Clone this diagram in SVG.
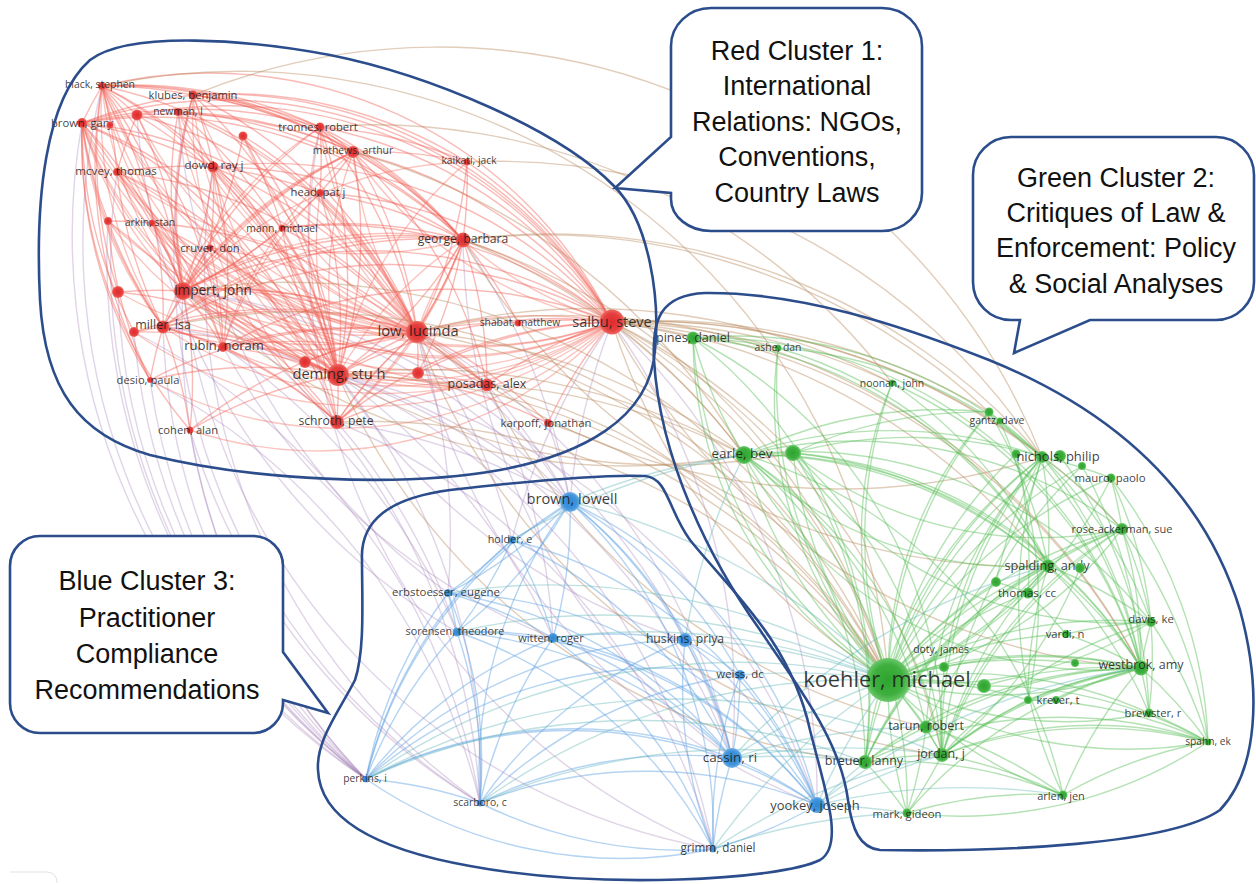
<svg xmlns="http://www.w3.org/2000/svg" width="1256" height="884" viewBox="0 0 1256 884">
<defs>
<style>
#connectors path{fill:none;stroke-width:1.4}
.er{stroke:#f05a50;stroke-opacity:.42}
.er2{stroke:#f26458;stroke-opacity:.38}
.eg{stroke:#58bf58;stroke-opacity:.45}
.eb{stroke:#5aa0e2;stroke-opacity:.45}
.erg{stroke:#b8875a;stroke-opacity:.42}
.erb{stroke:#a07ab4;stroke-opacity:.32}
.egb{stroke:#66b8b8;stroke-opacity:.42}
.r{fill:url(#gr)}
.g{fill:url(#gg)}
.b{fill:url(#gb)}
.lb{font-family:"Open Sans","DejaVu Sans",sans-serif;fill:#1e1e1e;fill-opacity:.88;text-anchor:middle}
.outline{fill:none;stroke:#2c4d8c;stroke-width:2.6}
.bubble{fill:#fff;stroke:#2c4d8c;stroke-width:2.6;stroke-linejoin:miter}
.ct{font-family:"Liberation Sans",Arial,sans-serif;font-size:27px;fill:#111;text-anchor:middle}
</style>
<radialGradient id="gr"><stop offset="0" stop-color="#e02a2c"/><stop offset=".7" stop-color="#e5403f"/><stop offset="1" stop-color="#ee6a62"/></radialGradient>
<radialGradient id="gg"><stop offset="0" stop-color="#2ea32e"/><stop offset=".7" stop-color="#3fb03f"/><stop offset="1" stop-color="#6cc86c"/></radialGradient>
<radialGradient id="gb"><stop offset="0" stop-color="#2f86d4"/><stop offset=".7" stop-color="#4094dc"/><stop offset="1" stop-color="#72b0e8"/></radialGradient>
</defs>
<rect width="1256" height="884" fill="#fff"/>
<g id="connectors">
<g class="erb">
<path d="M570 502A650 650 0 0 1 612 322"/><path d="M417 332A650 650 0 0 1 570 502"/><path d="M338 375A650 650 0 0 1 570 502"/><path d="M183 291A650 650 0 0 1 570 502"/><path d="M487 385A650 650 0 0 1 570 502"/><path d="M337 422A650 650 0 0 1 570 502"/><path d="M338 375A650 650 0 0 1 732 758"/><path d="M366 779A650 650 0 0 1 183 291"/><path d="M366 779A650 650 0 0 1 163 327"/><path d="M366 779A650 650 0 0 1 150 380"/><path d="M480 803A650 650 0 0 1 190 430"/><path d="M338 375A650 650 0 0 1 480 803"/><path d="M417 332A650 650 0 0 1 732 758"/><path d="M463 240A650 650 0 0 1 570 502"/><path d="M612 322A650 650 0 0 1 732 758"/><path d="M612 322A650 650 0 0 1 817 805"/><path d="M548 423A650 650 0 0 1 570 502"/><path d="M223 347A650 650 0 0 1 457 632"/><path d="M338 375A650 650 0 0 1 553 638"/><path d="M366 779A650 650 0 0 1 82 123"/><path d="M366 779A650 650 0 0 1 102 86"/><path d="M183 291A650 650 0 0 1 480 803"/><path d="M417 332A650 650 0 0 1 512 540"/><path d="M337 422A650 650 0 0 1 713 849"/><path d="M366 779A650 650 0 0 1 117 172"/><path d="M366 779A650 650 0 0 1 118 292"/><path d="M134 332A650 650 0 0 1 480 803"/><path d="M163 327A650 650 0 0 1 713 849"/><path d="M183 291A650 650 0 0 1 732 758"/><path d="M338 375A650 650 0 0 1 817 805"/><path d="M417 332A650 650 0 0 1 448 593"/><path d="M337 422A650 650 0 0 1 457 632"/><path d="M487 385A650 650 0 0 1 553 638"/><path d="M366 779A650 650 0 0 1 190 430"/><path d="M366 779A650 650 0 0 1 108 221"/><path d="M150 380A650 650 0 0 1 480 803"/>
<path d="M480 803A650 650 0 0 1 193 95"/><path d="M480 803A650 650 0 0 1 213 167"/><path d="M713 849A650 650 0 0 1 320 127"/><path d="M713 849A650 650 0 0 1 183 291"/><path d="M457 632A650 650 0 0 1 137 115"/><path d="M448 593A650 650 0 0 1 178 112"/><path d="M553 638A650 650 0 0 1 223 347"/><path d="M732 758A650 650 0 0 1 463 240"/><path d="M817 805A650 650 0 0 1 417 332"/><path d="M685 640A650 650 0 0 1 338 375"/><path d="M512 540A650 650 0 0 1 612 322"/><path d="M366 779A650 650 0 0 1 134 332"/>
</g>
<g class="er">
<path d="M102 86A450 450 0 0 1 193 95"/><path d="M82 123A450 450 0 0 1 102 86"/><path d="M102 86A450 450 0 0 1 183 291"/><path d="M102 86A450 450 0 0 1 338 375"/><path d="M102 86A450 450 0 0 1 417 332"/><path d="M102 86A450 450 0 0 1 612 322"/><path d="M102 86A450 450 0 0 1 117 172"/><path d="M102 86A450 450 0 0 1 163 327"/><path d="M102 86A450 450 0 0 1 320 127"/><path d="M102 86A450 450 0 0 1 463 240"/><path d="M102 86A450 450 0 0 1 223 347"/><path d="M118 292A450 450 0 0 1 102 86"/><path d="M150 380A450 450 0 0 1 102 86"/><path d="M102 86A450 450 0 0 1 137 115"/><path d="M102 86A450 450 0 0 1 353 152"/><path d="M102 86A450 450 0 0 1 337 422"/>
<path d="M82 123A450 450 0 0 1 193 95"/><path d="M82 123A450 450 0 0 1 320 127"/><path d="M82 123A450 450 0 0 1 183 291"/><path d="M82 123A450 450 0 0 1 338 375"/><path d="M82 123A450 450 0 0 1 417 332"/><path d="M82 123A450 450 0 0 1 612 322"/><path d="M163 327A450 450 0 0 1 82 123"/><path d="M150 380A450 450 0 0 1 82 123"/><path d="M134 332A450 450 0 0 1 82 123"/><path d="M190 430A450 450 0 0 1 82 123"/><path d="M82 123A450 450 0 0 1 337 422"/><path d="M82 123A450 450 0 0 1 463 240"/><path d="M82 123A450 450 0 0 1 353 152"/><path d="M82 123A450 450 0 0 1 117 172"/><path d="M108 221A450 450 0 0 1 82 123"/><path d="M82 123A450 450 0 0 1 213 167"/>
<path d="M193 95A450 450 0 0 1 320 127"/><path d="M193 95A450 450 0 0 1 353 152"/><path d="M193 95A450 450 0 0 1 338 375"/><path d="M193 95A450 450 0 0 1 417 332"/><path d="M183 291A450 450 0 0 1 193 95"/><path d="M193 95A450 450 0 0 1 612 322"/><path d="M193 95A450 450 0 0 1 463 240"/><path d="M193 95A450 450 0 0 1 467 162"/><path d="M193 95A450 450 0 0 1 213 167"/>
<path d="M178 112A450 450 0 0 1 213 167"/><path d="M183 291A450 450 0 0 1 178 112"/><path d="M178 112A450 450 0 0 1 417 332"/><path d="M178 112A450 450 0 0 1 338 375"/><path d="M178 112A450 450 0 0 1 353 152"/><path d="M178 112A450 450 0 0 1 463 240"/>
<path d="M137 115A450 450 0 0 1 183 291"/><path d="M137 115A450 450 0 0 1 338 375"/><path d="M137 115A450 450 0 0 1 417 332"/><path d="M117 172A450 450 0 0 1 137 115"/><path d="M137 115A450 450 0 0 1 612 322"/>
<path d="M320 127A450 450 0 0 1 353 152"/><path d="M320 127A450 450 0 0 1 417 332"/><path d="M320 127A450 450 0 0 1 338 375"/><path d="M320 127A450 450 0 0 1 612 322"/><path d="M320 127A450 450 0 0 1 463 240"/><path d="M183 291A450 450 0 0 1 320 127"/><path d="M320 127A450 450 0 0 1 467 162"/><path d="M320 127A450 450 0 0 1 320 193"/>
<path d="M353 152A450 450 0 0 1 463 240"/><path d="M353 152A450 450 0 0 1 417 332"/><path d="M353 152A450 450 0 0 1 338 375"/><path d="M353 152A450 450 0 0 1 612 322"/><path d="M183 291A450 450 0 0 1 353 152"/><path d="M353 152A450 450 0 0 1 320 193"/><path d="M353 152A450 450 0 0 1 487 385"/><path d="M353 152A450 450 0 0 1 467 162"/><path d="M163 327A450 450 0 0 1 353 152"/>
<path d="M117 172A450 450 0 0 1 183 291"/><path d="M163 327A450 450 0 0 1 117 172"/><path d="M117 172A450 450 0 0 1 338 375"/><path d="M117 172A450 450 0 0 1 417 332"/><path d="M117 172A450 450 0 0 1 223 347"/><path d="M117 172A450 450 0 0 1 337 422"/><path d="M117 172A450 450 0 0 1 213 167"/>
<path d="M213 167A450 450 0 0 1 183 291"/><path d="M213 167A450 450 0 0 1 417 332"/><path d="M213 167A450 450 0 0 1 338 375"/><path d="M213 167A450 450 0 0 1 463 240"/><path d="M213 167A450 450 0 0 1 612 322"/><path d="M213 167A450 450 0 0 1 282 228"/><path d="M213 167A450 450 0 0 1 210 248"/><path d="M213 167A450 450 0 0 1 223 347"/><path d="M213 167A450 450 0 0 1 320 193"/>
<path d="M320 193A450 450 0 0 1 417 332"/><path d="M320 193A450 450 0 0 1 338 375"/><path d="M320 193A450 450 0 0 1 463 240"/><path d="M320 193A450 450 0 0 1 612 322"/><path d="M320 193A450 450 0 0 1 183 291"/>
<path d="M243 136A450 450 0 0 1 338 375"/><path d="M243 136A450 450 0 0 1 417 332"/><path d="M243 136A450 450 0 0 1 282 228"/><path d="M243 136A450 450 0 0 1 183 291"/>
<path d="M108 221A450 450 0 0 1 183 291"/><path d="M163 327A450 450 0 0 1 108 221"/><path d="M150 380A450 450 0 0 1 108 221"/><path d="M108 221A450 450 0 0 1 152 223"/>
<path d="M152 223A450 450 0 0 1 183 291"/><path d="M152 223A450 450 0 0 1 338 375"/><path d="M152 223A450 450 0 0 1 417 332"/><path d="M152 223A450 450 0 0 1 223 347"/>
<path d="M282 228A450 450 0 0 1 417 332"/><path d="M282 228A450 450 0 0 1 338 375"/><path d="M282 228A450 450 0 0 1 463 240"/><path d="M282 228A450 450 0 0 1 612 322"/><path d="M282 228A450 450 0 0 1 183 291"/>
<path d="M210 248A450 450 0 0 1 183 291"/><path d="M210 248A450 450 0 0 1 338 375"/><path d="M210 248A450 450 0 0 1 417 332"/><path d="M210 248A450 450 0 0 1 223 347"/>
<path d="M467 162A450 450 0 0 1 463 240"/><path d="M467 162A450 450 0 0 1 612 322"/><path d="M467 162A450 450 0 0 1 417 332"/>
<path d="M463 240A450 450 0 0 1 417 332"/><path d="M463 240A450 450 0 0 1 612 322"/><path d="M463 240A450 450 0 0 1 338 375"/><path d="M183 291A450 450 0 0 1 463 240"/><path d="M463 240A450 450 0 0 1 487 385"/><path d="M463 240A450 450 0 0 1 337 422"/><path d="M163 327A450 450 0 0 1 463 240"/><path d="M463 240A450 450 0 0 1 518 323"/><path d="M463 240A450 450 0 0 1 418 373"/>
<path d="M183 291A450 450 0 0 1 417 332"/><path d="M183 291A450 450 0 0 1 338 375"/><path d="M183 291A450 450 0 0 1 612 322"/><path d="M183 291A450 450 0 0 1 163 327"/><path d="M183 291A450 450 0 0 1 223 347"/><path d="M183 291A450 450 0 0 1 337 422"/><path d="M183 291A450 450 0 0 1 487 385"/><path d="M118 292A450 450 0 0 1 183 291"/><path d="M183 291A450 450 0 0 1 190 430"/><path d="M183 291A450 450 0 0 1 305 362"/>
<path d="M163 327A450 450 0 0 1 417 332"/><path d="M163 327A450 450 0 0 1 338 375"/><path d="M163 327A450 450 0 0 1 612 322"/><path d="M163 327A450 450 0 0 1 223 347"/><path d="M163 327A450 450 0 0 1 337 422"/><path d="M163 327A450 450 0 0 1 190 430"/><path d="M150 380A450 450 0 0 1 163 327"/><path d="M134 332A450 450 0 0 1 163 327"/>
<path d="M223 347A450 450 0 0 1 417 332"/><path d="M223 347A450 450 0 0 1 338 375"/><path d="M223 347A450 450 0 0 1 612 322"/><path d="M223 347A450 450 0 0 1 337 422"/><path d="M223 347A450 450 0 0 1 487 385"/>
<path d="M338 375A450 450 0 0 1 417 332"/><path d="M417 332A450 450 0 0 1 612 322"/><path d="M417 332A450 450 0 0 1 487 385"/><path d="M337 422A450 450 0 0 1 417 332"/><path d="M417 332A450 450 0 0 1 518 323"/><path d="M417 332A450 450 0 0 1 418 373"/><path d="M417 332A450 450 0 0 1 548 423"/>
<path d="M338 375A450 450 0 0 1 612 322"/><path d="M338 375A450 450 0 0 1 487 385"/><path d="M338 375A450 450 0 0 1 337 422"/><path d="M305 362A450 450 0 0 1 338 375"/><path d="M190 430A450 450 0 0 1 338 375"/><path d="M338 375A450 450 0 0 1 548 423"/>
<path d="M337 422A450 450 0 0 1 612 322"/><path d="M337 422A450 450 0 0 1 487 385"/><path d="M487 385A450 450 0 0 1 612 322"/><path d="M518 323A450 450 0 0 1 612 322"/>
<path d="M118 292A450 450 0 0 1 338 375"/><path d="M134 332A450 450 0 0 1 417 332"/><path d="M134 332A450 450 0 0 1 338 375"/><path d="M150 380A450 450 0 0 1 338 375"/><path d="M150 380A450 450 0 0 1 417 332"/><path d="M190 430A450 450 0 0 1 417 332"/><path d="M548 423A450 450 0 0 1 612 322"/><path d="M418 373A450 450 0 0 1 612 322"/><path d="M305 362A450 450 0 0 1 417 332"/>
</g>
<g class="er2">
<path d="M102 86A400 400 0 0 0 183 291"/><path d="M102 86A400 400 0 0 0 338 375"/><path d="M102 86A400 400 0 0 0 417 332"/><path d="M102 86A400 400 0 0 0 612 322"/><path d="M82 123A400 400 0 0 0 183 291"/><path d="M82 123A400 400 0 0 0 338 375"/><path d="M82 123A400 400 0 0 0 417 332"/><path d="M82 123A400 400 0 0 0 612 322"/><path d="M193 95A400 400 0 0 0 417 332"/><path d="M193 95A400 400 0 0 0 338 375"/><path d="M320 127A400 400 0 0 0 417 332"/><path d="M320 127A400 400 0 0 0 338 375"/><path d="M353 152A400 400 0 0 0 417 332"/><path d="M353 152A400 400 0 0 0 338 375"/><path d="M353 152A400 400 0 0 0 612 322"/><path d="M213 167A400 400 0 0 0 417 332"/><path d="M213 167A400 400 0 0 0 338 375"/><path d="M320 193A400 400 0 0 0 417 332"/><path d="M320 193A400 400 0 0 0 338 375"/><path d="M463 240A400 400 0 0 0 338 375"/><path d="M463 240A400 400 0 0 0 183 291"/><path d="M463 240A400 400 0 0 0 163 327"/><path d="M183 291A400 400 0 0 0 417 332"/><path d="M183 291A400 400 0 0 0 612 322"/><path d="M183 291A400 400 0 0 0 487 385"/><path d="M163 327A400 400 0 0 0 417 332"/><path d="M163 327A400 400 0 0 0 612 322"/><path d="M223 347A400 400 0 0 0 612 322"/><path d="M417 332A400 400 0 0 0 337 422"/><path d="M338 375A400 400 0 0 0 612 322"/><path d="M117 172A400 400 0 0 0 417 332"/><path d="M117 172A400 400 0 0 0 338 375"/><path d="M137 115A400 400 0 0 0 417 332"/><path d="M243 136A400 400 0 0 0 417 332"/><path d="M152 223A400 400 0 0 0 417 332"/><path d="M210 248A400 400 0 0 0 417 332"/><path d="M282 228A400 400 0 0 0 338 375"/><path d="M178 112A400 400 0 0 0 417 332"/><path d="M178 112A400 400 0 0 0 338 375"/><path d="M118 292A400 400 0 0 0 417 332"/><path d="M134 332A400 400 0 0 0 612 322"/><path d="M150 380A400 400 0 0 0 612 322"/><path d="M190 430A400 400 0 0 0 612 322"/><path d="M337 422A400 400 0 0 0 463 240"/><path d="M487 385A400 400 0 0 0 183 291"/><path d="M467 162A400 400 0 0 0 338 375"/><path d="M467 162A400 400 0 0 0 183 291"/><path d="M320 127A400 400 0 0 0 163 327"/><path d="M353 152A400 400 0 0 0 223 347"/><path d="M102 86A400 400 0 0 0 487 385"/><path d="M82 123A400 400 0 0 0 487 385"/><path d="M193 95A400 400 0 0 0 337 422"/><path d="M213 167A400 400 0 0 0 337 422"/><path d="M320 193A400 400 0 0 0 223 347"/><path d="M117 172A400 400 0 0 0 463 240"/><path d="M108 221A400 400 0 0 0 417 332"/><path d="M108 221A400 400 0 0 0 338 375"/><path d="M152 223A400 400 0 0 0 612 322"/><path d="M210 248A400 400 0 0 0 612 322"/><path d="M193 95A400 400 0 0 0 183 291"/><path d="M102 86A400 400 0 0 0 163 327"/><path d="M82 123A400 400 0 0 0 163 327"/><path d="M353 152A400 400 0 0 0 183 291"/><path d="M463 240A400 400 0 0 0 612 322"/><path d="M463 240A400 400 0 0 0 417 332"/>
</g>
<g class="erg">
<path d="M612 322A650 650 0 0 1 693 338"/><path d="M612 322A650 650 0 0 1 744 455"/><path d="M612 322A650 650 0 0 1 888 680"/><path d="M612 322A650 650 0 0 1 778 348"/><path d="M612 322A650 650 0 0 1 892 383"/><path d="M612 322A650 650 0 0 1 1042 457"/><path d="M612 322A650 650 0 0 1 793 453"/><path d="M612 322A650 650 0 0 1 1048 566"/><path d="M612 322A650 650 0 0 1 942 755"/><path d="M612 322A650 650 0 0 1 1122 529"/><path d="M612 322A650 650 0 0 1 989 412"/>
<path d="M417 332A650 650 0 0 1 744 455"/><path d="M417 332A650 650 0 0 1 888 680"/><path d="M417 332A650 650 0 0 1 892 383"/><path d="M338 375A650 650 0 0 1 888 680"/><path d="M338 375A650 650 0 0 1 744 455"/><path d="M463 240A650 650 0 0 1 744 455"/><path d="M463 240A650 650 0 0 1 1042 457"/><path d="M463 240A650 650 0 0 1 888 680"/><path d="M183 291A650 650 0 0 1 888 680"/><path d="M487 385A650 650 0 0 1 888 680"/><path d="M487 385A650 650 0 0 1 744 455"/><path d="M467 162A650 650 0 0 1 1042 457"/><path d="M353 152A650 650 0 0 1 744 455"/><path d="M320 127A650 650 0 0 1 892 383"/><path d="M548 423A650 650 0 0 1 888 680"/><path d="M163 327A650 650 0 0 1 888 680"/><path d="M337 422A650 650 0 0 1 888 680"/><path d="M193 95A650 650 0 0 1 1042 457"/><path d="M102 86A650 650 0 0 1 888 680"/><path d="M417 332A650 650 0 0 1 1141 668"/><path d="M612 322A650 650 0 0 1 1141 668"/><path d="M463 240A650 650 0 0 1 989 412"/>
<path d="M888 680A650 650 0 0 1 612 322"/><path d="M942 755A650 650 0 0 1 417 332"/><path d="M865 762A650 650 0 0 1 338 375"/><path d="M1048 566A650 650 0 0 1 463 240"/><path d="M744 455A650 650 0 0 1 183 291"/><path d="M926 727A650 650 0 0 1 487 385"/><path d="M1141 668A650 650 0 0 1 612 322"/><path d="M1042 457A650 650 0 0 1 417 332"/><path d="M793 453A650 650 0 0 1 338 375"/>
</g>
<g class="eg">
<path d="M888 680A450 450 0 0 1 693 338"/><path d="M888 680A450 450 0 0 1 778 348"/><path d="M888 680A450 450 0 0 1 744 455"/><path d="M888 680A450 450 0 0 1 793 453"/><path d="M888 680A450 450 0 0 1 1042 457"/><path d="M888 680A450 450 0 0 1 1016 454"/><path d="M888 680A450 450 0 0 1 1111 478"/><path d="M888 680A450 450 0 0 1 1122 529"/><path d="M888 680A450 450 0 0 1 1048 566"/><path d="M888 680A450 450 0 0 1 1028 593"/><path d="M888 680A450 450 0 0 1 1151 622"/><path d="M888 680A450 450 0 0 1 1066 634"/><path d="M888 680A450 450 0 0 1 1141 668"/><path d="M888 680A450 450 0 0 1 944 667"/><path d="M888 680A450 450 0 0 1 984 686"/><path d="M888 680A450 450 0 0 1 1028 700"/><path d="M888 680A450 450 0 0 1 1149 713"/><path d="M888 680A450 450 0 0 1 926 727"/><path d="M888 680A450 450 0 0 1 942 755"/><path d="M865 762A450 450 0 0 1 888 680"/><path d="M907 813A450 450 0 0 1 888 680"/><path d="M1063 795A450 450 0 0 1 888 680"/><path d="M1208 742A450 450 0 0 1 888 680"/><path d="M888 680A450 450 0 0 1 996 582"/><path d="M888 680A450 450 0 0 1 989 412"/><path d="M888 680A450 450 0 0 1 892 383"/><path d="M888 680A450 450 0 0 1 1075 663"/><path d="M888 680A450 450 0 0 1 1060 456"/><path d="M888 680A450 450 0 0 1 1082 466"/>
<path d="M744 455A450 450 0 0 1 693 338"/><path d="M744 455A450 450 0 0 1 793 453"/><path d="M744 455A450 450 0 0 1 1042 457"/><path d="M744 455A450 450 0 0 1 1048 566"/><path d="M744 455A450 450 0 0 1 942 755"/><path d="M744 455A450 450 0 0 1 926 727"/><path d="M744 455A450 450 0 0 1 865 762"/><path d="M744 455A450 450 0 0 1 1141 668"/><path d="M744 455A450 450 0 0 1 1122 529"/><path d="M744 455A450 450 0 0 1 907 813"/><path d="M744 455A450 450 0 0 1 1151 622"/><path d="M744 455A450 450 0 0 1 1063 795"/><path d="M744 455A450 450 0 0 1 989 412"/>
<path d="M793 453A450 450 0 0 1 1042 457"/><path d="M793 453A450 450 0 0 1 1048 566"/><path d="M793 453A450 450 0 0 1 942 755"/><path d="M793 453A450 450 0 0 1 1141 668"/><path d="M793 453A450 450 0 0 1 989 412"/><path d="M793 453A450 450 0 0 1 865 762"/>
<path d="M1042 457A450 450 0 0 1 1048 566"/><path d="M1042 457A450 450 0 0 1 1141 668"/><path d="M1042 457A450 450 0 0 1 1122 529"/><path d="M1042 457A450 450 0 0 1 1111 478"/><path d="M1042 457A450 450 0 0 1 1151 622"/><path d="M942 755A450 450 0 0 1 1042 457"/><path d="M926 727A450 450 0 0 1 1042 457"/><path d="M989 412A450 450 0 0 1 1042 457"/><path d="M996 582A450 450 0 0 1 1042 457"/><path d="M1016 454A450 450 0 0 1 1028 593"/><path d="M1060 456A450 450 0 0 1 1149 713"/><path d="M1063 795A450 450 0 0 1 1042 457"/><path d="M865 762A450 450 0 0 1 1042 457"/><path d="M1082 466A450 450 0 0 1 1141 668"/><path d="M942 755A450 450 0 0 1 1082 466"/>
<path d="M1122 529A450 450 0 0 1 1141 668"/><path d="M1048 566A450 450 0 0 1 1122 529"/><path d="M1122 529A450 450 0 0 1 1151 622"/><path d="M1122 529A450 450 0 0 1 1208 742"/><path d="M942 755A450 450 0 0 1 1122 529"/><path d="M1111 478A450 450 0 0 1 1122 529"/><path d="M865 762A450 450 0 0 1 1122 529"/>
<path d="M1048 566A450 450 0 0 1 1141 668"/><path d="M1048 566A450 450 0 0 1 1028 593"/><path d="M942 755A450 450 0 0 1 1048 566"/><path d="M1048 566A450 450 0 0 1 1151 622"/><path d="M1028 700A450 450 0 0 1 1048 566"/><path d="M926 727A450 450 0 0 1 1048 566"/><path d="M1048 566A450 450 0 0 1 1149 713"/><path d="M865 762A450 450 0 0 1 1048 566"/>
<path d="M1141 668A450 450 0 0 1 1151 622"/><path d="M1141 668A450 450 0 0 1 1149 713"/><path d="M1141 668A450 450 0 0 1 1208 742"/><path d="M942 755A450 450 0 0 1 1141 668"/><path d="M926 727A450 450 0 0 1 1141 668"/><path d="M1028 700A450 450 0 0 1 1141 668"/><path d="M1063 795A450 450 0 0 1 1141 668"/><path d="M1066 634A450 450 0 0 1 1141 668"/><path d="M865 762A450 450 0 0 1 1141 668"/><path d="M907 813A450 450 0 0 1 1141 668"/>
<path d="M942 755A450 450 0 0 1 926 727"/><path d="M865 762A450 450 0 0 1 942 755"/><path d="M942 755A450 450 0 0 1 907 813"/><path d="M942 755A450 450 0 0 1 1063 795"/><path d="M942 755A450 450 0 0 1 1208 742"/><path d="M942 755A450 450 0 0 1 1028 700"/><path d="M942 755A450 450 0 0 1 1151 622"/>
<path d="M865 762A450 450 0 0 1 926 727"/><path d="M865 762A450 450 0 0 1 907 813"/><path d="M865 762A450 450 0 0 1 1063 795"/><path d="M865 762A450 450 0 0 1 1208 742"/>
<path d="M1151 622A450 450 0 0 1 1208 742"/><path d="M1151 622A450 450 0 0 1 1149 713"/><path d="M1066 634A450 450 0 0 1 1151 622"/>
<path d="M693 338A450 450 0 0 1 778 348"/><path d="M693 338A450 450 0 0 1 1042 457"/><path d="M693 338A450 450 0 0 1 1048 566"/><path d="M693 338A450 450 0 0 1 942 755"/><path d="M693 338A450 450 0 0 1 1141 668"/><path d="M693 338A450 450 0 0 1 865 762"/>
<path d="M989 412A450 450 0 0 1 1048 566"/><path d="M989 412A450 450 0 0 1 1141 668"/><path d="M1000 421A450 450 0 0 1 1028 700"/><path d="M907 813A450 450 0 0 1 1063 795"/><path d="M1063 795A450 450 0 0 1 1208 742"/><path d="M1149 713A450 450 0 0 1 1208 742"/><path d="M1028 593A450 450 0 0 1 1066 634"/><path d="M996 582A450 450 0 0 1 1028 593"/><path d="M944 667A450 450 0 0 1 1141 668"/><path d="M984 686A450 450 0 0 1 1141 668"/><path d="M984 686A450 450 0 0 1 1208 742"/><path d="M926 727A450 450 0 0 1 1063 795"/><path d="M1028 700A450 450 0 0 1 1208 742"/><path d="M1075 663A450 450 0 0 1 1141 668"/><path d="M1111 478A450 450 0 0 1 1208 742"/><path d="M1111 478A450 450 0 0 1 1151 622"/><path d="M892 383A450 450 0 0 1 1141 668"/><path d="M892 383A450 450 0 0 1 1048 566"/><path d="M778 348A450 450 0 0 1 1048 566"/><path d="M778 348A450 450 0 0 1 1042 457"/><path d="M926 727A450 450 0 0 1 907 813"/><path d="M1080 568A450 450 0 0 1 942 755"/><path d="M1056 700A450 450 0 0 1 1141 668"/><path d="M1208 742A450 450 0 0 1 907 813"/>
<path d="M888 680A400 400 0 0 0 1042 457"/><path d="M888 680A400 400 0 0 0 1122 529"/><path d="M888 680A400 400 0 0 0 1048 566"/><path d="M888 680A400 400 0 0 0 1141 668"/><path d="M744 455A400 400 0 0 0 1141 668"/><path d="M744 455A400 400 0 0 0 1048 566"/><path d="M1042 457A400 400 0 0 0 942 755"/><path d="M693 338A400 400 0 0 0 888 680"/><path d="M1141 668A400 400 0 0 0 942 755"/><path d="M1122 529A400 400 0 0 0 942 755"/><path d="M1048 566A400 400 0 0 0 865 762"/><path d="M888 680A400 400 0 0 0 1151 622"/><path d="M888 680A400 400 0 0 0 1111 478"/><path d="M778 348A400 400 0 0 0 888 680"/><path d="M892 383A400 400 0 0 0 888 680"/><path d="M989 412A400 400 0 0 0 888 680"/><path d="M1208 742A400 400 0 0 0 942 755"/><path d="M888 680A400 400 0 0 0 1149 713"/><path d="M793 453A400 400 0 0 0 1122 529"/><path d="M793 453A400 400 0 0 0 1151 622"/>
</g>
<g class="eb">
<path d="M570 502A450 450 0 0 1 512 540"/><path d="M570 502A450 450 0 0 1 448 593"/><path d="M570 502A450 450 0 0 1 457 632"/><path d="M570 502A450 450 0 0 1 553 638"/><path d="M570 502A450 450 0 0 1 685 640"/><path d="M570 502A450 450 0 0 1 740 675"/><path d="M570 502A450 450 0 0 1 732 758"/><path d="M570 502A450 450 0 0 1 817 805"/><path d="M366 779A450 450 0 0 1 570 502"/><path d="M480 803A450 450 0 0 1 570 502"/><path d="M570 502A450 450 0 0 1 713 849"/>
<path d="M512 540A450 450 0 0 1 448 593"/><path d="M512 540A450 450 0 0 1 457 632"/><path d="M512 540A450 450 0 0 1 553 638"/><path d="M512 540A450 450 0 0 1 732 758"/><path d="M512 540A450 450 0 0 1 817 805"/><path d="M366 779A450 450 0 0 1 512 540"/>
<path d="M448 593A450 450 0 0 1 457 632"/><path d="M448 593A450 450 0 0 1 553 638"/><path d="M448 593A450 450 0 0 1 732 758"/><path d="M366 779A450 450 0 0 1 448 593"/><path d="M448 593A450 450 0 0 1 817 805"/><path d="M448 593A450 450 0 0 1 480 803"/>
<path d="M457 632A450 450 0 0 1 553 638"/><path d="M457 632A450 450 0 0 1 732 758"/><path d="M366 779A450 450 0 0 1 457 632"/><path d="M457 632A450 450 0 0 1 480 803"/><path d="M457 632A450 450 0 0 1 817 805"/><path d="M457 632A450 450 0 0 1 713 849"/>
<path d="M553 638A450 450 0 0 1 685 640"/><path d="M553 638A450 450 0 0 1 732 758"/><path d="M553 638A450 450 0 0 1 817 805"/><path d="M480 803A450 450 0 0 1 553 638"/><path d="M553 638A450 450 0 0 1 713 849"/><path d="M366 779A450 450 0 0 1 553 638"/>
<path d="M685 640A450 450 0 0 1 740 675"/><path d="M685 640A450 450 0 0 1 732 758"/><path d="M685 640A450 450 0 0 1 817 805"/><path d="M740 675A450 450 0 0 1 732 758"/><path d="M740 675A450 450 0 0 1 817 805"/><path d="M713 849A450 450 0 0 1 740 675"/>
<path d="M732 758A450 450 0 0 1 817 805"/><path d="M713 849A450 450 0 0 1 732 758"/><path d="M366 779A450 450 0 0 1 732 758"/><path d="M480 803A450 450 0 0 1 732 758"/><path d="M817 805A450 450 0 0 1 713 849"/><path d="M366 779A450 450 0 0 1 817 805"/><path d="M480 803A450 450 0 0 1 817 805"/><path d="M366 779A450 450 0 0 1 480 803"/><path d="M713 849A450 450 0 0 1 366 779"/><path d="M713 849A450 450 0 0 1 480 803"/><path d="M366 779A450 450 0 0 1 685 640"/><path d="M480 803A450 450 0 0 1 685 640"/><path d="M713 849A450 450 0 0 1 685 640"/><path d="M366 779A450 450 0 0 1 740 675"/><path d="M480 803A450 450 0 0 1 740 675"/>
</g>
<g class="egb">
<path d="M732 758A650 650 0 0 1 888 680"/><path d="M817 805A650 650 0 0 1 888 680"/><path d="M732 758A650 650 0 0 1 865 762"/><path d="M817 805A650 650 0 0 1 865 762"/><path d="M817 805A650 650 0 0 1 942 755"/><path d="M732 758A650 650 0 0 1 942 755"/><path d="M685 640A650 650 0 0 1 888 680"/><path d="M740 675A650 650 0 0 1 888 680"/><path d="M570 502A650 650 0 0 1 888 680"/><path d="M570 502A650 650 0 0 1 744 455"/><path d="M685 640A650 650 0 0 1 744 455"/><path d="M817 805A650 650 0 0 1 907 813"/><path d="M732 758A650 650 0 0 1 926 727"/><path d="M366 779A650 650 0 0 1 888 680"/><path d="M480 803A650 650 0 0 1 888 680"/><path d="M713 849A650 650 0 0 1 888 680"/><path d="M817 805A650 650 0 0 1 1141 668"/><path d="M732 758A650 650 0 0 1 1048 566"/><path d="M713 849A650 650 0 0 1 942 755"/><path d="M480 803A650 650 0 0 1 865 762"/><path d="M366 779A650 650 0 0 1 865 762"/><path d="M817 805A650 650 0 0 1 1063 795"/><path d="M713 849A650 650 0 0 1 907 813"/><path d="M366 779A650 650 0 0 1 942 755"/><path d="M553 638A650 650 0 0 1 888 680"/><path d="M457 632A650 650 0 0 1 888 680"/><path d="M448 593A650 650 0 0 1 888 680"/><path d="M512 540A650 650 0 0 1 744 455"/>
</g>
</g>
<g id="nodes">
<g id="n-black-stephen"><circle class="r" cx="102" cy="86" r="4"/><text class="lb" x="100" y="88" font-size="10.4">black, stephen</text></g>
<g id="n-klubes-benjamin"><circle class="r" cx="193" cy="95" r="4.5"/><text class="lb" x="193" y="99" font-size="11.2">klubes, benjamin</text></g>
<g id="n-newman-l"><circle class="r" cx="178" cy="112" r="4"/><text class="lb" x="178" y="115" font-size="10.3">newman, l</text></g>
<g id="n-red-1"><circle class="r" cx="137" cy="115" r="5.5"/></g>
<g id="n-brown-gary"><circle class="r" cx="82" cy="123" r="5"/><text class="lb" x="82" y="127" font-size="11.2">brown, gary</text></g>
<g id="n-red-2"><circle class="r" cx="110" cy="125" r="3.5"/></g>
<g id="n-red-3"><circle class="r" cx="243" cy="136" r="4.5"/></g>
<g id="n-tronnes-robert"><circle class="r" cx="320" cy="127" r="4.5"/><text class="lb" x="318" y="131" font-size="11.2">tronnes, robert</text></g>
<g id="n-mathews-arthur"><circle class="r" cx="353" cy="152" r="6"/><text class="lb" x="353" y="154" font-size="10.4">mathews, arthur</text></g>
<g id="n-mcvey-thomas"><circle class="r" cx="117" cy="172" r="4"/><text class="lb" x="116" y="175" font-size="11.6">mcvey, thomas</text></g>
<g id="n-dowd-ray-j"><circle class="r" cx="213" cy="167" r="5.5"/><text class="lb" x="214" y="169" font-size="11.6">dowd, ray j</text></g>
<g id="n-head-pat-j"><circle class="r" cx="320" cy="193" r="4"/><text class="lb" x="318" y="196" font-size="11.2">head, pat j</text></g>
<g id="n-red-4"><circle class="r" cx="108" cy="221" r="4"/></g>
<g id="n-arkin-stan"><circle class="r" cx="152" cy="223" r="3.5"/><text class="lb" x="150" y="226" font-size="10.3">arkin, stan</text></g>
<g id="n-mann-michael"><circle class="r" cx="282" cy="228" r="3.5"/><text class="lb" x="282" y="232" font-size="10.4">mann, michael</text></g>
<g id="n-cruver-don"><circle class="r" cx="210" cy="248" r="3.5"/><text class="lb" x="210" y="252" font-size="11.2">cruver, don</text></g>
<g id="n-kaikati-jack"><circle class="r" cx="467" cy="162" r="3.5"/><text class="lb" x="469" y="164" font-size="10.3">kaikati, jack</text></g>
<g id="n-george-barbara"><circle class="r" cx="463" cy="240" r="7.5"/><text class="lb" x="463" y="243" font-size="12.2">george, barbara</text></g>
<g id="n-impert-john"><circle class="r" cx="183" cy="291" r="9"/><text class="lb" x="213" y="295" font-size="13.6">impert, john</text></g>
<g id="n-red-5"><circle class="r" cx="118" cy="292" r="6"/></g>
<g id="n-miller-lsa"><circle class="r" cx="163" cy="327" r="6.5"/><text class="lb" x="163" y="329" font-size="12.5">miller, lsa</text></g>
<g id="n-red-6"><circle class="r" cx="134" cy="332" r="5"/></g>
<g id="n-rubin-noram"><circle class="r" cx="223" cy="347" r="5"/><text class="lb" x="224" y="350" font-size="13">rubin, noram</text></g>
<g id="n-low-lucinda"><circle class="r" cx="417" cy="332" r="11"/><text class="lb" x="418" y="336" font-size="14.7">low, lucinda</text></g>
<g id="n-deming-stu-h"><circle class="r" cx="338" cy="375" r="11"/><text class="lb" x="339" y="379" font-size="14.7">deming, stu h</text></g>
<g id="n-red-7"><circle class="r" cx="305" cy="362" r="6"/></g>
<g id="n-red-8"><circle class="r" cx="418" cy="373" r="6"/></g>
<g id="n-schroth-pete"><circle class="r" cx="337" cy="422" r="7"/><text class="lb" x="336" y="425" font-size="12.2">schroth, pete</text></g>
<g id="n-desio-paula"><circle class="r" cx="150" cy="380" r="3"/><text class="lb" x="148" y="384" font-size="11.2">desio, paula</text></g>
<g id="n-cohen-alan"><circle class="r" cx="190" cy="430" r="3.5"/><text class="lb" x="188" y="434" font-size="11.2">cohen, alan</text></g>
<g id="n-posadas-alex"><circle class="r" cx="487" cy="385" r="6.5"/><text class="lb" x="487" y="388" font-size="12.5">posadas, alex</text></g>
<g id="n-shabat-matthew"><circle class="r" cx="518" cy="323" r="3.5"/><text class="lb" x="520" y="326" font-size="10.3">shabat, matthew</text></g>
<g id="n-salbu-steve"><circle class="r" cx="612" cy="322" r="12.5"/><text class="lb" x="612" y="327" font-size="14.5">salbu, steve</text></g>
<g id="n-karpoff-jonathan"><circle class="r" cx="548" cy="423" r="4"/><text class="lb" x="546" y="427" font-size="11.3">karpoff, jonathan</text></g>

<g id="n-pines-daniel"><circle class="g" cx="693" cy="338" r="6.5"/><text class="lb" x="693" y="342" font-size="12.6">pines, daniel</text></g>
<g id="n-ashe-dan"><circle class="g" cx="778" cy="348" r="3.5"/><text class="lb" x="778" y="351" font-size="10.4">ashe, dan</text></g>
<g id="n-noonan-john"><circle class="g" cx="892" cy="383" r="3.5"/><text class="lb" x="892" y="387" font-size="10.4">noonan, john</text></g>
<g id="n-earle-bev"><circle class="g" cx="744" cy="455" r="9"/><text class="lb" x="742" y="458" font-size="13.5">earle, bev</text></g>
<g id="n-green-1"><circle class="g" cx="793" cy="453" r="8"/></g>
<g id="n-green-2"><circle class="g" cx="989" cy="412" r="4.5"/></g>
<g id="n-gantz-dave"><circle class="g" cx="1000" cy="421" r="3.5"/><text class="lb" x="997" y="424" font-size="10.4">gantz, dave</text></g>
<g id="n-green-3"><circle class="g" cx="1016" cy="454" r="4.5"/></g>
<g id="n-green-4"><circle class="g" cx="1060" cy="456" r="6"/></g>
<g id="n-nichols-philip"><circle class="g" cx="1042" cy="457" r="6"/><text class="lb" x="1058" y="461" font-size="13">nichols, philip</text></g>
<g id="n-green-5"><circle class="g" cx="1082" cy="466" r="4"/></g>
<g id="n-mauro-paolo"><circle class="g" cx="1111" cy="478" r="4.5"/><text class="lb" x="1110" y="482" font-size="11.4">mauro, paolo</text></g>
<g id="n-rose-ackerman-sue"><circle class="g" cx="1122" cy="529" r="6"/><text class="lb" x="1122" y="533" font-size="11">rose-ackerman, sue</text></g>
<g id="n-spalding-andy"><circle class="g" cx="1048" cy="566" r="6.5"/><text class="lb" x="1047" y="570" font-size="12.7">spalding, andy</text></g>
<g id="n-green-6"><circle class="g" cx="1080" cy="568" r="5"/></g>
<g id="n-green-7"><circle class="g" cx="996" cy="582" r="5"/></g>
<g id="n-thomas-cc"><circle class="g" cx="1028" cy="593" r="5.5"/><text class="lb" x="1027" y="597" font-size="11.6">thomas, cc</text></g>
<g id="n-davis-ke"><circle class="g" cx="1151" cy="622" r="5"/><text class="lb" x="1151" y="623" font-size="11.4">davis, ke</text></g>
<g id="n-vardi-n"><circle class="g" cx="1066" cy="634" r="4"/><text class="lb" x="1065" y="638" font-size="11.2">vardi, n</text></g>
<g id="n-green-8"><circle class="g" cx="1075" cy="663" r="4"/></g>
<g id="n-westbrok-amy"><circle class="g" cx="1141" cy="668" r="7.5"/><text class="lb" x="1141" y="669" font-size="12.5">westbrok, amy</text></g>
<g id="n-doty-james"><circle class="g" cx="944" cy="667" r="5"/><text class="lb" x="941" y="653" font-size="10.4">doty, james</text></g>
<g id="n-koehler-michael"><circle class="g" cx="888" cy="680" r="22"/><text class="lb" x="887" y="687" font-size="21.8">koehler, michael</text></g>
<g id="n-green-9"><circle class="g" cx="984" cy="686" r="7"/></g>
<g id="n-green-10"><circle class="g" cx="1028" cy="700" r="4"/></g>
<g id="n-krever-t"><circle class="g" cx="1056" cy="700" r="4"/><text class="lb" x="1058" y="704" font-size="11.2">krever, t</text></g>
<g id="n-brewster-r"><circle class="g" cx="1149" cy="713" r="4.5"/><text class="lb" x="1153" y="717" font-size="11.2">brewster, r</text></g>
<g id="n-tarun-robert"><circle class="g" cx="926" cy="727" r="6.5"/><text class="lb" x="926" y="730" font-size="12.6">tarun, robert</text></g>
<g id="n-jordan-j"><circle class="g" cx="942" cy="755" r="7"/><text class="lb" x="941" y="758" font-size="12.5">jordan, j</text></g>
<g id="n-breuer-lanny"><circle class="g" cx="865" cy="762" r="7"/><text class="lb" x="864" y="765" font-size="12.6">breuer, lanny</text></g>
<g id="n-mark-gideon"><circle class="g" cx="907" cy="813" r="4.5"/><text class="lb" x="907" y="818" font-size="11.3">mark, gideon</text></g>
<g id="n-arlen-jen"><circle class="g" cx="1063" cy="795" r="4.5"/><text class="lb" x="1061" y="800" font-size="11">arlen, jen</text></g>
<g id="n-spahn-ek"><circle class="g" cx="1208" cy="742" r="3.5"/><text class="lb" x="1208" y="745" font-size="10.2">spahn, ek</text></g>

<g id="n-brown-lowell"><circle class="b" cx="570" cy="502" r="10"/><text class="lb" x="572" y="504" font-size="14.6">brown, lowell</text></g>
<g id="n-holder-e"><circle class="b" cx="512" cy="540" r="4"/><text class="lb" x="510" y="543" font-size="10.8">holder, e</text></g>
<g id="n-erbstoesser-eugene"><circle class="b" cx="448" cy="593" r="4"/><text class="lb" x="446" y="596" font-size="11.4">erbstoesser, eugene</text></g>
<g id="n-sorensen-theodore"><circle class="b" cx="457" cy="632" r="4.5"/><text class="lb" x="455" y="635" font-size="10.8">sorensen, theodore</text></g>
<g id="n-witten-roger"><circle class="b" cx="553" cy="638" r="5"/><text class="lb" x="551" y="642" font-size="11">witten, roger</text></g>
<g id="n-huskins-priya"><circle class="b" cx="685" cy="640" r="7"/><text class="lb" x="685" y="643" font-size="12.2">huskins, priya</text></g>
<g id="n-weiss-dc"><circle class="b" cx="740" cy="675" r="5"/><text class="lb" x="740" y="678" font-size="11.4">weiss, dc</text></g>
<g id="n-cassin-ri"><circle class="b" cx="732" cy="758" r="10"/><text class="lb" x="730" y="762" font-size="13.5">cassin, ri</text></g>
<g id="n-perkins-i"><circle class="b" cx="366" cy="779" r="3.5"/><text class="lb" x="365" y="782" font-size="10.3">perkins, i</text></g>
<g id="n-scarboro-c"><circle class="b" cx="480" cy="803" r="3.5"/><text class="lb" x="480" y="806" font-size="10.4">scarboro, c</text></g>
<g id="n-grimm-daniel"><circle class="b" cx="713" cy="849" r="3.5"/><text class="lb" x="718" y="852" font-size="11.7">grimm, daniel</text></g>
<g id="n-yookey-joseph"><circle class="b" cx="817" cy="805" r="8"/><text class="lb" x="815" y="810" font-size="12.9">yookey, joseph</text></g>
</g>
<g id="cluster-outlines">
<path id="outline-red" class="outline" d="M40 300C35 200 45 100 90 60C130 30 250 40 330 55C430 75 560 130 614 186C650 222 660 300 655 350C650 420 580 455 500 470C400 488 250 480 150 455C80 435 45 390 40 300Z"/>
<path id="outline-green" class="outline" d="M654 360C652 320 660 295 705 293C800 292 900 325 989 360C1100 405 1200 480 1240 610C1262 690 1258 770 1220 810C1170 845 1000 852 880 850C860 848 852 830 848 800C840 740 800 690 760 630C710 560 660 460 654 360Z"/>
<path id="outline-blue" class="outline" d="M362 560C360 520 390 498 450 490C520 482 600 474 645 476C668 478 668 510 690 540C730 590 790 640 810 730C825 790 845 845 820 860C780 880 600 890 470 866C380 850 320 820 318 770C316 740 340 710 355 680C365 650 362 600 362 560Z"/>
</g>
<g id="callouts">
<g id="callout-red"><path class="bubble" d="M711 8H882A40 38 0 0 1 922 46V193A40 38 0 0 1 882 231H711A40 32 0 0 1 671 199V193L615 188L671 137V46A40 38 0 0 1 711 8Z"/>
<text class="ct" x="797" y="60">Red Cluster 1:</text><text class="ct" x="797" y="95">International</text><text class="ct" x="797" y="131">Relations: NGOs,</text><text class="ct" x="797" y="166">Conventions,</text><text class="ct" x="797" y="202">Country Laws</text></g>
<g id="callout-green"><path class="bubble" d="M1011 137H1216A38 38 0 0 1 1254 175V282A38 38 0 0 1 1216 320H1090L1014 353L1020 320H1011A38 38 0 0 1 973 282V175A38 38 0 0 1 1011 137Z"/>
<text class="ct" x="1116" y="187">Green Cluster 2:</text><text class="ct" x="1116" y="222">Critiques of Law &amp;</text><text class="ct" x="1116" y="257">Enforcement: Policy</text><text class="ct" x="1116" y="293">&amp; Social Analyses</text></g>
<g id="callout-blue"><path class="bubble" d="M40 536H253A30 30 0 0 1 283 566V652L328 713L283 700V703A30 30 0 0 1 253 733H40A30 30 0 0 1 10 703V566A30 30 0 0 1 40 536Z"/>
<text class="ct" x="147" y="590">Blue Cluster 3:</text><text class="ct" x="147" y="627">Practitioner</text><text class="ct" x="147" y="663">Compliance</text><text class="ct" x="147" y="699">Recommendations</text></g>
</g>
<path d="M10 872H46Q57 872 57 883" fill="none" stroke="#e2e2e2" stroke-width="1"/>
</svg>
